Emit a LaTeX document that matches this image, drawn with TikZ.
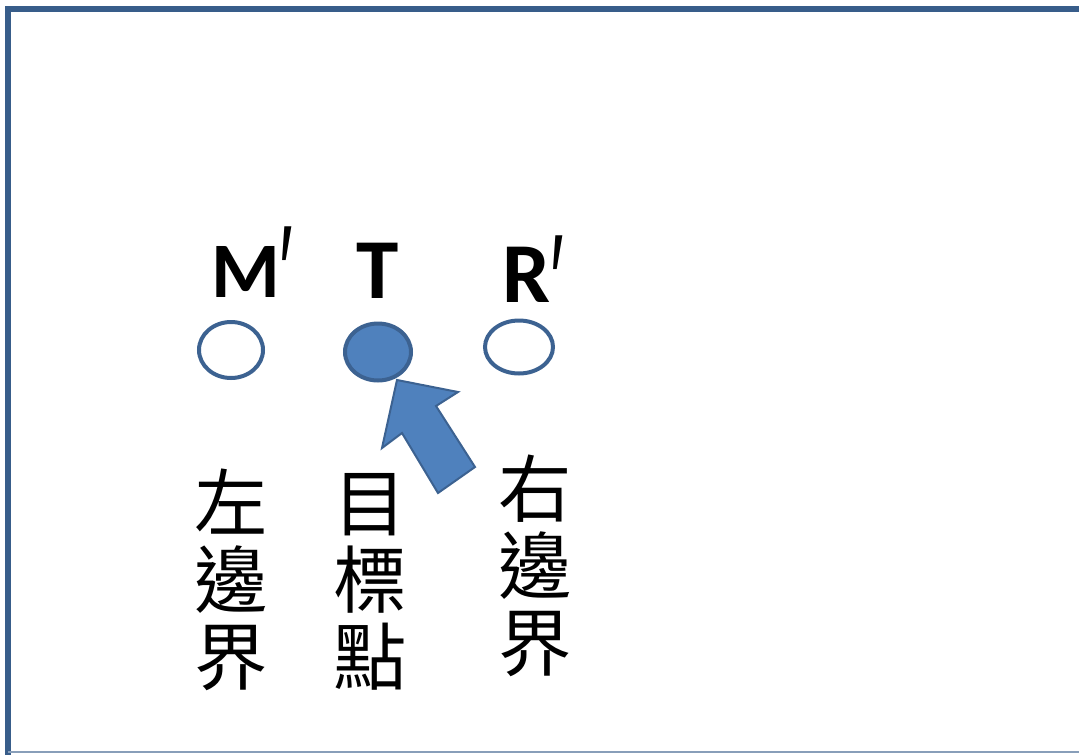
\documentclass[tikz,border=0pt]{standalone}
\usepackage{fontspec}
\usepackage{graphicx}
\usetikzlibrary{shapes.geometric}
\setmainfont{Carlito}
\newfontfamily\cjk{Noto Sans CJK TC}
\newfontfamily\primefont{Liberation Sans}
\definecolor{frameblue}{RGB}{56,93,138}
\definecolor{fillblue}{RGB}{79,129,189}
\definecolor{strokeblue}{RGB}{60,98,145}
\begin{document}
\begin{tikzpicture}[x=0.75pt,y=-0.75pt,
  ring/.style={draw=strokeblue,line width=3pt,ellipse,inner sep=0pt},
  lab/.style={font=\fontsize{64}{64}\selectfont\bfseries,inner sep=0pt,anchor=base west},
  primemark/.style={font=\primefont\fontsize{100}{100}\selectfont,inner sep=0pt,anchor=north west},
  cjkcol/.style={font=\cjk\fontsize{55}{58}\selectfont,align=center,inner sep=0pt}]
\useasboundingbox (0,0) rectangle (1079,754);
\fill[white] (0,0) rectangle (1079,754);
% frame
\draw[frameblue,line width=4.5pt] (8,1079) -- (8,9) -- (1085,9);
\draw[frameblue!60,line width=1.5pt] (8,752) -- (1085,752);
% circles
\node[ring,minimum width=48pt,minimum height=42pt] (Mc) at (231,350) {};
\node[ring,fill=fillblue,minimum width=49.5pt,minimum height=42.75pt] (Tc) at (378,352) {};
\node[ring,minimum width=51pt,minimum height=39.75pt] (Rc) at (519,347) {};
% labels
\node[lab,font=\fontsize{59}{59}\selectfont\bfseries] (Ml) at (211,297) {M};
\node[primemark] (Mp) at (279,226) {\scalebox{0.55}[1]{′}};
\node[lab] (Tl) at (356,298) {T};
\node[lab] (Rl) at (502,302) {R};
\node[primemark] (Rp) at (550,235) {\scalebox{0.55}[1]{′}};
% arrow
\filldraw[fill=fillblue,draw=strokeblue,line width=1.5pt,line join=miter]
  (397,380) -- (458,392) -- (436,406) -- (475,467) -- (438,493) -- (402,433) -- (382,448) -- cycle;
% vertical texts
\node[cjkcol] (left) at (231,580) {左\\邊\\界};
\node[cjkcol] (targ) at (370,582) {目\\標\\點};
\node[cjkcol] (right) at (535,566) {右\\邊\\界};
\end{tikzpicture}
\end{document}
